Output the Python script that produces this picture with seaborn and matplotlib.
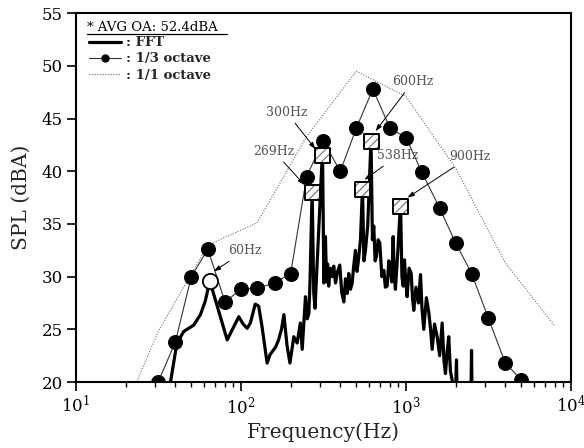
import matplotlib
matplotlib.use("Agg")
import matplotlib.pyplot as plt
import seaborn as sns
from matplotlib.lines import Line2D

# ---------------- data ----------------
fft_freq = [36.0, 37.4, 40.9, 45.0, 51.7, 56.8, 60.8, 64.7,
            82.5, 97, 103, 109, 114, 122, 128, 134, 144, 150, 155, 162,
            169, 176, 182, 190, 198, 209, 219, 229, 235, 246, 252, 258, 262,
            270, 276, 281, 312, 318, 322, 325, 330, 335, 340, 348, 357, 365,
            374, 385, 397, 408, 420, 430, 440, 450, 461, 472, 482, 494, 505,
            517, 530, 545, 556, 568, 586, 614, 626, 638, 650, 662, 678, 694,
            714, 734, 750, 769, 787, 805, 820, 836, 850, 863, 877, 891, 927,
            945, 962, 979, 998, 1016, 1045, 1076, 1095, 1115, 1150, 1190, 1225,
            1250, 1282, 1330, 1375, 1410, 1441, 1490, 1545, 1600, 1657, 1700,
            1735, 1780, 1816, 1860, 1904, 1966, 2023, 2066, 2460, 2496, 2530]
fft_spl = [19.0, 20.0, 23.7, 24.8, 25.4, 26.4, 27.7, 29.6,
           24.0, 26.2, 25.5, 25.1, 25.6, 27.4, 27.2, 25.3, 21.8, 22.6, 22.9, 23.3,
           24.0, 25.0, 26.4, 23.5, 21.8, 24.3, 23.7, 25.6, 23.1, 28.1, 26.0, 26.5, 29.5,
           38.2, 28.5, 27.0, 42.0, 29.4, 32.0, 33.8, 29.5, 31.2, 29.1, 30.8, 30.0, 31.0,
           29.4, 30.5, 31.1, 28.5, 27.6, 29.8, 28.4, 30.3, 28.8, 29.4, 31.0, 32.5, 30.5,
           31.8, 33.5, 38.5, 31.5, 32.5, 34.8, 43.0, 33.5, 34.8, 31.5, 31.9, 33.5, 33.2,
           30.0, 30.6, 29.0, 29.1, 31.5, 30.6, 29.5, 33.8, 30.0, 28.8, 30.5, 32.2, 37.0,
           30.0, 29.1, 31.6, 29.5, 28.1, 30.8, 30.3, 28.0, 26.8, 29.0, 27.5, 30.2,
           27.0, 25.0, 28.0, 26.6, 25.0, 23.1, 25.5, 24.3, 22.5, 25.6, 22.0,
           20.8, 23.0, 24.3, 21.0, 20.2, 15.0, 22.1, 15.0, 15.0, 23.0, 15.0]

third_freq = [31.5, 40, 50, 63, 80, 100, 125, 160, 200, 250, 315, 400,
              500, 630, 800, 1000, 1250, 1600, 2000, 2500, 3150, 4000, 5000]
third_spl = [20.0, 23.8, 30.0, 32.6, 27.6, 28.8, 28.9, 29.4, 30.3, 39.5, 42.9, 40.0,
             44.1, 47.8, 44.1, 43.2, 39.9, 36.5, 33.2, 30.3, 26.1, 21.8, 20.2]

oct_freq = [16, 31.5, 63, 125, 250, 500, 1000, 2000, 4000, 8000]
oct_spl = [14.0, 24.8, 33.0, 35.1, 43.3, 49.5, 47.1, 40.3, 31.3, 25.3]

# peak markers (squares) and the open circle
peak_labels = ["269Hz", "300Hz", "538Hz", "600Hz", "900Hz"]
peak_freq = [270, 313, 545, 615, 927]
peak_spl = [38.0, 41.5, 38.3, 42.8, 36.7]
peak_text_freq = [158, 189, 894, 1102, 2443]
peak_text_spl = [41.9, 45.6, 41.5, 48.5, 41.4]
peak_arrow_freq = [243, 283, 560, 653, 1021]
peak_arrow_spl = [38.7, 42.1, 39.2, 43.8, 37.5]

low_label = "60Hz"
low_freq = [64.7]
low_spl = [29.6]
low_text = (106, 32.45)
low_arrow = (68.4, 30.5)

legend_labels = [": FFT", ": 1/3 octave", ": 1/1 octave"]
title_text = "* AVG OA: 52.4dBA"

# ---------------- style ----------------
sns.set_theme(style="ticks")
plt.rcParams["font.family"] = ["DejaVu Serif"]
plt.rcParams["mathtext.fontset"] = "dejavuserif"
plt.rcParams["hatch.linewidth"] = 0.8

fig = plt.figure(figsize=(5.84, 4.48), dpi=100)
ax = fig.add_axes([0.1301, 0.1473, 0.8476, 0.823])

oct_ls = (0, (1, 1.4))
sns.lineplot(x=oct_freq, y=oct_spl, ax=ax, color="#6e6e6e", lw=0.8,
             linestyle=oct_ls, estimator=None, sort=False, zorder=1)
sns.lineplot(x=third_freq, y=third_spl, ax=ax, color="#333333", lw=0.8,
             marker="o", markersize=10, markerfacecolor="black",
             markeredgecolor="black", estimator=None, sort=False, zorder=2)
sns.lineplot(x=fft_freq, y=fft_spl, ax=ax, color="black", lw=2.3,
             estimator=None, sort=False, zorder=3)
# hatched fill (gray hatch) then black outline
sns.scatterplot(x=peak_freq, y=peak_spl, ax=ax, marker="s", s=115,
                facecolor="white", edgecolor="#707070", linewidth=0,
                hatch="////", zorder=5)
sns.scatterplot(x=peak_freq, y=peak_spl, ax=ax, marker="s", s=115,
                facecolor="none", edgecolor="black", linewidth=1.4, zorder=6)
sns.scatterplot(x=low_freq, y=low_spl, ax=ax, marker="o", s=120,
                facecolor="white", edgecolor="black", linewidth=1.3, zorder=5)

ax.set_xscale("log")
ax.set_xlim(10, 1e4)
ax.set_ylim(20, 55)
ax.set_yticks(range(20, 56, 5))

arrow_kw = dict(arrowstyle="-|>,head_length=0.45,head_width=0.15",
                color="black", lw=0.7, shrinkA=1, shrinkB=0)
for lab, tf, ts, af, as_ in zip(peak_labels, peak_text_freq, peak_text_spl,
                                peak_arrow_freq, peak_arrow_spl):
    ax.annotate(lab, xy=(af, as_), xytext=(tf, ts), ha="center", va="center",
                fontsize=9, color="#555555", arrowprops=arrow_kw, zorder=7)
ax.annotate(low_label, xy=low_arrow, xytext=low_text, ha="center", va="center",
            fontsize=9, color="#555555", arrowprops=arrow_kw, zorder=7)

# legend
handles = [Line2D([], [], color="black", lw=2.3),
           Line2D([], [], color="#333333", lw=0.8, marker="o", markersize=5,
                  markerfacecolor="black", markeredgecolor="black"),
           Line2D([], [], color="#6e6e6e", lw=0.8, linestyle=oct_ls)]
ax.legend(handles, legend_labels, loc="upper left", bbox_to_anchor=(0.026, 0.938),
          frameon=False, prop={"weight": "bold", "size": 9.5}, handlelength=2.4,
          handletextpad=0.4, labelspacing=0.25, borderaxespad=0, borderpad=0)
ax.text(0.022, 0.962, title_text, transform=ax.transAxes, ha="left", va="center",
        fontsize=9.5, color="black")
ax.plot([0.022, 0.305], [0.943, 0.943], transform=ax.transAxes, color="black",
        lw=0.9, clip_on=False)

for sp in ax.spines.values():
    sp.set_visible(True)
    sp.set_linewidth(1.5)
    sp.set_color("black")
ax.tick_params(axis="both", which="major", direction="out", length=6.5, width=1.2,
               labelsize=12, colors="black", pad=3)
ax.tick_params(axis="x", which="minor", direction="out", length=3.5, width=1.0,
               colors="black")
ax.tick_params(axis="y", which="minor", left=False)
ax.set_xlabel("Frequency(Hz)", fontsize=14.5, labelpad=4)
ax.set_ylabel("SPL (dBA)", fontsize=14.5, labelpad=8)
ax.grid(False)

fig.savefig("out.png", dpi=100)
